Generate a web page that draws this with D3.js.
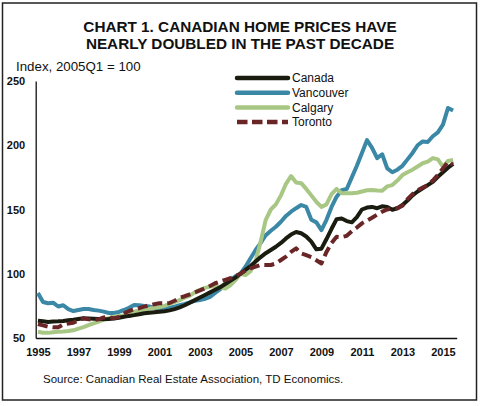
<!DOCTYPE html>
<html>
<head>
<meta charset="utf-8">
<script src="https://cdn.jsdelivr.net/npm/d3@7"></script>
<style>
  body { margin: 0; background: #fff; }
  svg text { font-family: "Liberation Sans", Arial, sans-serif; fill: #111; }
</style>
</head>
<body>
<div class="chart"></div>
<script>
// quarterly, 1995Q1 .. 2015Q3, index 2005Q1 = 100
var startYear = 1995;

var canada = [
  63.5, 63, 62.5, 62.8,
  63, 63.3, 63.8, 64.2,
  64.8, 65.3, 65.2, 65,
  64.8, 64.6, 64.8, 65.2,
  65.8, 66.5, 67.2, 67.8,
  68.5, 69.2, 69.6, 70,
  70.4, 70.8, 71.5, 72.5,
  73.8, 75.5, 77.5, 79.5,
  81.5, 83.5, 85.5, 87.5,
  89.5, 92, 94.5, 97,
  100, 103, 106, 109.5,
  113, 116, 118.5, 121,
  124, 127.5, 130.5, 132.5,
  131.5, 129, 125, 119,
  119.5, 127, 135, 142.5,
  143, 141, 140, 144,
  150, 151.5, 152, 151,
  152.5, 152, 149.8, 151,
  153.5, 157, 161, 164,
  166.5, 169, 171.5, 175.5,
  179, 182.5, 185.5
];

var vancouver = [
  85, 78, 77, 77.5,
  74.5, 75.5, 72.5, 71,
  71.8, 72.5, 72.5, 71.8,
  71.3, 70.5, 69.5, 69.5,
  70.3, 71.8, 73.5, 75.7,
  75.5, 74.9, 74.6, 73.5,
  72.3, 72.5, 73.5, 74.4,
  75.5, 76.5, 77.8, 79,
  79.6, 80.5, 82, 85,
  88, 91, 95, 98,
  100, 105.5, 112, 118.5,
  124, 130, 133.5, 136.6,
  140.5, 145, 148.3, 151,
  153.5, 152, 142, 140,
  134, 142, 152, 160,
  165, 166, 175, 184,
  194, 204, 198, 190,
  193, 182, 179, 181,
  184, 189, 194, 200,
  203, 202.5, 207, 210,
  216, 229, 227
];

var calgary = [
  54.9, 54.1, 54, 54.5,
  54.8, 55, 55.4, 56,
  57.3, 58.5, 60, 61.4,
  62.8, 64.5, 65.5, 66.5,
  67, 67.8, 69, 70.5,
  71.5, 72.2, 72.8, 73.5,
  74, 75, 76.5, 78,
  79.5, 81.5, 83, 85.5,
  87.5, 89, 90, 90.5,
  89.5, 88.5, 91, 95,
  100, 99, 102, 110,
  125, 142, 150, 154,
  161, 170, 176, 171,
  170.5, 166, 161, 156,
  152, 154, 162, 166,
  162.6, 162.6, 162.6, 163,
  164, 165, 165.2, 164.8,
  164.6, 168, 169, 172.5,
  176.8, 179, 181, 183.5,
  186, 187.2, 190, 189,
  183.3, 187.8, 188.5
];

var toronto = [
  60.9, 59.8, 58.8, 58.3,
  58.3, 60.5, 61.2, 61.9,
  63.5, 65.3, 64.5, 64,
  64.5, 66, 66.3, 65.3,
  66.5, 69, 71, 72.3,
  73.2, 74.4, 75.5, 76.3,
  77, 77, 77.2, 79,
  81.3, 82.5, 84, 85.5,
  87, 88.7, 90.5, 92.6,
  94, 95.3, 96.5, 98.2,
  100, 102.5, 104.2, 105.5,
  106.8, 106.8, 106.8, 108,
  110.7, 113.3, 117, 119.8,
  115.9, 114.5, 113, 110.5,
  108, 117, 124, 128.8,
  128.5, 129.5, 133, 136,
  139.2, 141.4, 143.6, 146,
  148.3, 150, 151, 151,
  153, 158, 162, 165,
  167, 169, 172.5, 177,
  182, 187, 185
];

var seriesNames = ["Canada", "Vancouver", "Calgary", "Toronto"];
var yearTicks = [1995, 1997, 1999, 2001, 2003, 2005, 2007, 2009, 2011, 2013, 2015];
var valueTicks = [50, 100, 150, 200, 250];

function makeChart(){
  var width = 482,
      height = 406;

  var svg = d3.select(".chart").append("svg")
      .attr("width", width)
      .attr("height", height);

  svg.append("rect")
      .attr("x", 2.5)
      .attr("y", 3)
      .attr("width", 474)
      .attr("height", 397)
      .attr("fill", "white")
      .attr("stroke", "#222")
      .attr("stroke-width", 1.5);

  var x = d3.scaleLinear().domain([1994.89, 2015.68]).range([35.7, 456.7]);
  var y = d3.scaleLinear().domain([50, 250]).range([338, 81]);

  svg.append("text")
      .attr("x", 240)
      .attr("y", 32.3)
      .attr("text-anchor", "middle")
      .style("font-size", "15.3px")
      .style("font-weight", "bold")
      .text("CHART 1. CANADIAN HOME PRICES HAVE");
  svg.append("text")
      .attr("x", 240)
      .attr("y", 49.3)
      .attr("text-anchor", "middle")
      .style("font-size", "15.3px")
      .style("font-weight", "bold")
      .text("NEARLY DOUBLED IN THE PAST DECADE");

  svg.append("text")
      .attr("x", 16)
      .attr("y", 71)
      .style("font-size", "13.3px")
      .text("Index, 2005Q1 = 100");

  // axes, no tick marks
  var yAxis = svg.append("g")
      .attr("transform", "translate(" + x.range()[0] + ",0)")
      .call(d3.axisLeft(y).tickValues(valueTicks).tickSize(0).tickPadding(10.5));
  var xAxis = svg.append("g")
      .attr("transform", "translate(0," + y.range()[0] + ")")
      .call(d3.axisBottom(x).tickValues(yearTicks).tickFormat(d3.format("d")).tickSize(0).tickPadding(10));

  [xAxis, yAxis].forEach(function(ax){
    ax.select(".domain").attr("stroke", "#111").attr("stroke-width", 1.3);
    ax.selectAll("text")
        .style("font-family", '"Liberation Sans", Arial, sans-serif')
        .style("font-size", "11px")
        .style("font-weight", "bold")
        .attr("fill", "#111");
  });

  var line = d3.line()
      .x(function(d, i){ return x(startYear + i / 4); })
      .y(function(d){ return y(d); });

  var series = {
    Canada: { values: canada, color: "#1b1c10", dash: null },
    Vancouver: { values: vancouver, color: "#3b87a6", dash: null },
    Calgary: { values: calgary, color: "#a9c784", dash: null },
    Toronto: { values: toronto, color: "#6a2626", dash: "10,5" }
  };

  ["Vancouver", "Calgary", "Canada", "Toronto"].forEach(function(name){
    var s = series[name];
    svg.append("path")
        .datum(s.values)
        .attr("d", line)
        .attr("fill", "none")
        .attr("stroke", s.color)
        .attr("stroke-width", 4)
        .attr("stroke-linejoin", "round")
        .attr("stroke-dasharray", s.dash);
  });

  // legend
  var legend = svg.append("g").attr("transform", "translate(237,78)");
  seriesNames.forEach(function(name, i){
    var s = series[name];
    var row = legend.append("g").attr("transform", "translate(0," + (i * 14.7) + ")");
    row.append("line")
        .attr("x1", 0)
        .attr("x2", 51)
        .attr("stroke", s.color)
        .attr("stroke-width", 4.5)
        .attr("stroke-linecap", s.dash ? "butt" : "round")
        .attr("stroke-dasharray", s.dash ? "10.5,4.5" : null);
    row.append("text")
        .attr("x", 55)
        .attr("dy", "0.36em")
        .style("font-size", "12px")
        .text(name);
  });

  svg.append("text")
      .attr("x", 43)
      .attr("y", 383.3)
      .style("font-size", "11.5px")
      .text("Source: Canadian Real Estate Association, TD Economics.");
}

makeChart();
</script>
</body>
</html>
